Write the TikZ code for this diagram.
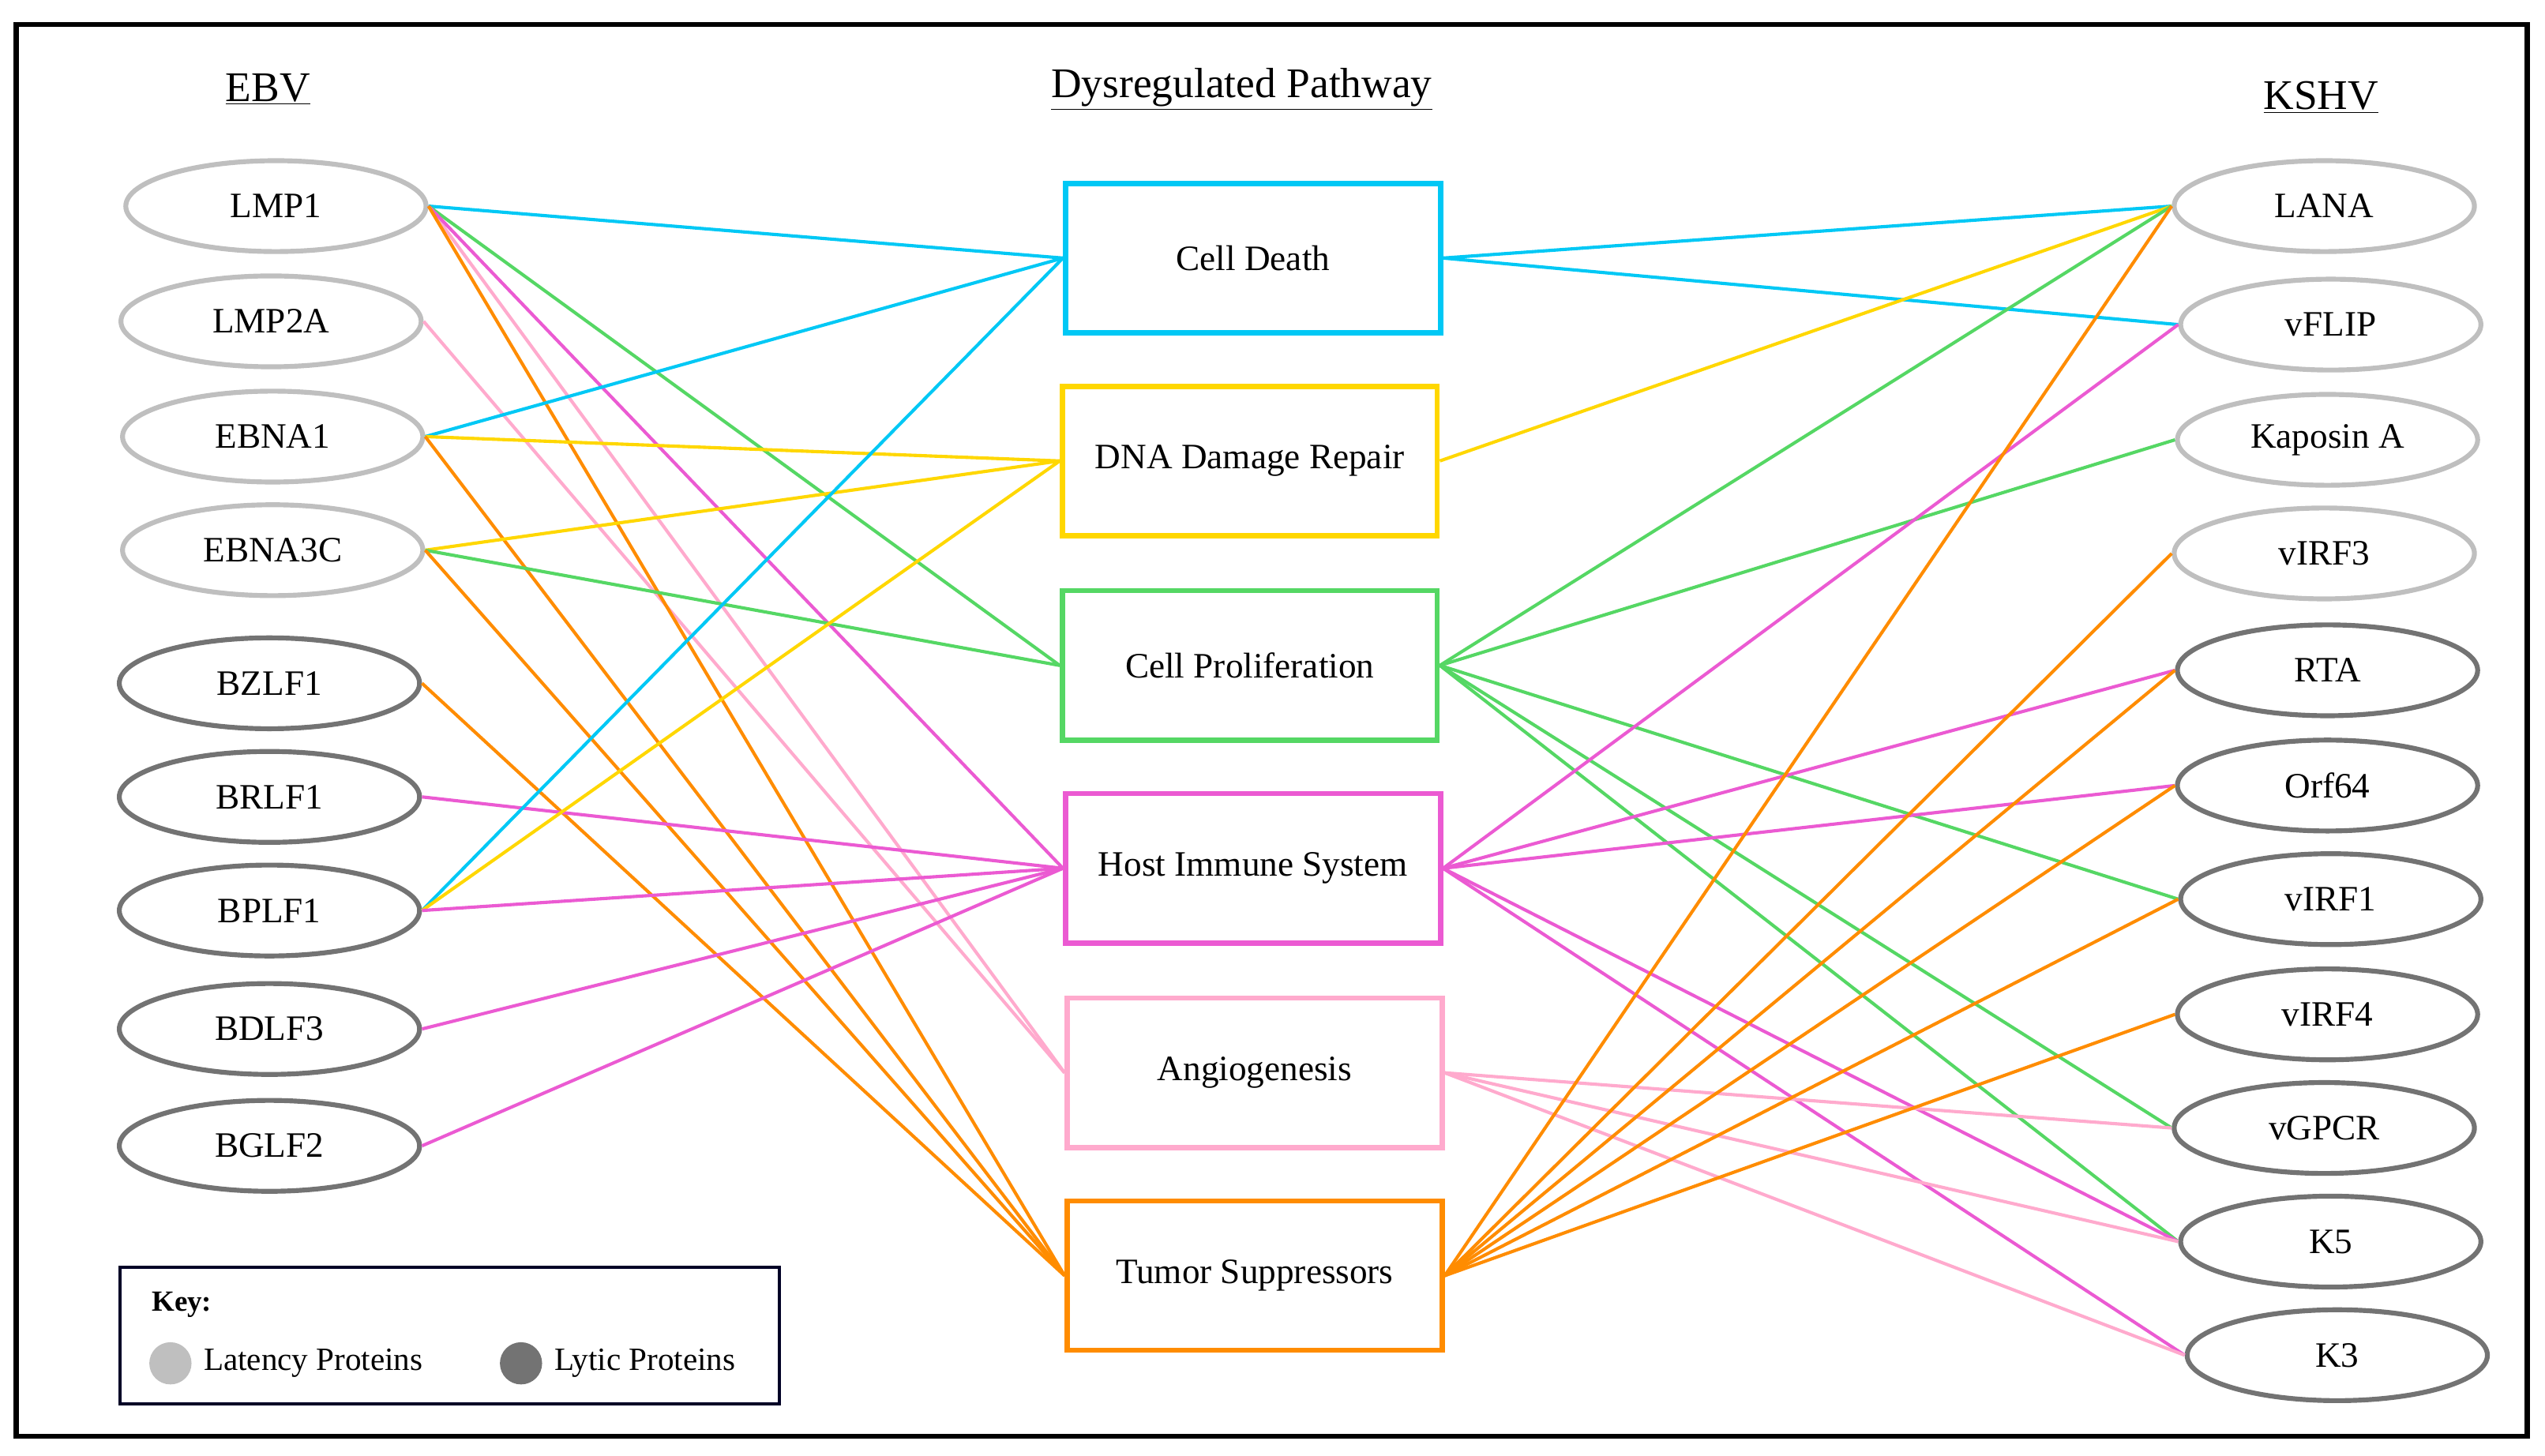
\documentclass[tikz,border=0pt]{standalone}
\usepackage{fontspec}
\setmainfont{Liberation Serif}
\usetikzlibrary{shapes.geometric}
\begin{document}
\begin{tikzpicture}[x=1pt,y=-1pt,
 lat/.style={ellipse,draw=black!25,line width=3pt,minimum width=185pt,minimum height=56pt,font=\fontsize{22}{24}\selectfont},
 lyt/.style={ellipse,draw=black!55,line width=3pt,minimum width=185pt,minimum height=56pt,font=\fontsize{22}{24}\selectfont},
 box/.style={draw=#1,line width=3.2pt,minimum width=231pt,minimum height=92pt,font=\fontsize{22}{24}\selectfont},
 ttl/.style={font=\fontsize{26}{28}\selectfont},
 e/.style={draw=#1,line width=2pt}]
\definecolor{cd}{RGB}{0,200,245}
\definecolor{dn}{RGB}{255,215,0}
\definecolor{cp}{RGB}{85,215,100}
\definecolor{hi}{RGB}{235,90,210}
\definecolor{an}{RGB}{255,170,205}
\definecolor{ts}{RGB}{255,140,0}
\useasboundingbox (0,0) rectangle (1568,897);
\draw[line width=3pt] (10,15) rectangle (1557,885);
\node[ttl] (tE) at (165,55) {\underline{EBV}};
\node[ttl] (tD) at (765,55) {\underline{Dysregulated Pathway}};
\node[ttl] (tK) at (1430,60) {\underline{KSHV}};
% left
\node[lat] (LMP1) at (170,127) {LMP1};
\node[lat] (LMP2A) at (167,198) {LMP2A};
\node[lat] (EBNA1) at (168,269) {EBNA1};
\node[lat] (EBNA3C) at (168,339) {EBNA3C};
\node[lyt] (BZLF1) at (166,421) {BZLF1};
\node[lyt] (BRLF1) at (166,491) {BRLF1};
\node[lyt] (BPLF1) at (166,561) {BPLF1};
\node[lyt] (BDLF3) at (166,634) {BDLF3};
\node[lyt] (BGLF2) at (166,706) {BGLF2};
% right
\node[lat] (LANA) at (1432,127) {LANA};
\node[lat] (vFLIP) at (1436,200) {vFLIP};
\node[lat] (KapA) at (1434,271) {Kaposin A};
\node[lat] (vIRF3) at (1432,341) {vIRF3};
\node[lyt] (RTA) at (1434,413) {RTA};
\node[lyt] (Orf64) at (1434,484) {Orf64};
\node[lyt] (vIRF1) at (1436,554) {vIRF1};
\node[lyt] (vIRF4) at (1434,625) {vIRF4};
\node[lyt] (vGPCR) at (1432,695) {vGPCR};
\node[lyt] (K5) at (1436,765) {K5};
\node[lyt] (K3) at (1440,835) {K3};
% boxes
\node[box=cd] (CD) at (772,159) {Cell Death};
\node[box=dn] (DN) at (770,284) {DNA Damage Repair};
\node[box=cp] (CP) at (770,410) {Cell Proliferation};
\node[box=hi] (HI) at (772,535) {Host Immune System};
\node[box=an] (AN) at (773,661) {Angiogenesis};
\node[box=ts] (TS) at (773,786) {Tumor Suppressors};
% left edges
\draw[e=an] (LMP1.east) -- (AN.west);
\draw[e=an] (LMP2A.east) -- (AN.west);
\draw[e=cd] (LMP1.east) -- (CD.west);
\draw[e=cp] (LMP1.east) -- (CP.west);
\draw[e=hi] (LMP1.east) -- (HI.west);
\draw[e=ts] (LMP1.east) -- (TS.west);
\draw[e=cd] (EBNA1.east) -- (CD.west);
\draw[e=dn] (EBNA1.east) -- (DN.west);
\draw[e=ts] (EBNA1.east) -- (TS.west);
\draw[e=dn] (EBNA3C.east) -- (DN.west);
\draw[e=cp] (EBNA3C.east) -- (CP.west);
\draw[e=ts] (EBNA3C.east) -- (TS.west);
\draw[e=ts] (BZLF1.east) -- (TS.west);
\draw[e=hi] (BRLF1.east) -- (HI.west);
\draw[e=cd] (BPLF1.east) -- (CD.west);
\draw[e=dn] (BPLF1.east) -- (DN.west);
\draw[e=hi] (BPLF1.east) -- (HI.west);
\draw[e=hi] (BDLF3.east) -- (HI.west);
\draw[e=hi] (BGLF2.east) -- (HI.west);
% right edges
\draw[e=cd] (CD.east) -- (LANA.west);
\draw[e=cd] (CD.east) -- (vFLIP.west);
\draw[e=dn] (DN.east) -- (LANA.west);
\draw[e=cp] (CP.east) -- (LANA.west);
\draw[e=cp] (CP.east) -- (KapA.west);
\draw[e=cp] (CP.east) -- (vIRF1.west);
\draw[e=cp] (CP.east) -- (vGPCR.west);
\draw[e=cp] (CP.east) -- (K5.west);
\draw[e=hi] (HI.east) -- (vFLIP.west);
\draw[e=hi] (HI.east) -- (RTA.west);
\draw[e=hi] (HI.east) -- (Orf64.west);
\draw[e=hi] (HI.east) -- (K5.west);
\draw[e=hi] (HI.east) -- (K3.west);
\draw[e=an] (AN.east) -- (vGPCR.west);
\draw[e=an] (AN.east) -- (K5.west);
\draw[e=an] (AN.east) -- (K3.west);
\draw[e=ts] (TS.east) -- (LANA.west);
\draw[e=ts] (TS.east) -- (vIRF3.west);
\draw[e=ts] (TS.east) -- (RTA.west);
\draw[e=ts] (TS.east) -- (Orf64.west);
\draw[e=ts] (TS.east) -- (vIRF1.west);
\draw[e=ts] (TS.east) -- (vIRF4.west);
% key
\draw[line width=2pt,draw=black!85!blue] (74,781) rectangle (480,865);
\node[font=\bfseries\fontsize{18}{20}\selectfont,anchor=west] (kk) at (90,804) {Key:};
\node[circle,fill=black!25,minimum size=26pt,inner sep=0] (c1) at (105,840) {};
\node[anchor=west,font=\fontsize{20}{22}\selectfont] (l1) at (122,840) {Latency Proteins};
\node[circle,fill=black!55,minimum size=26pt,inner sep=0] (c2) at (321,840) {};
\node[anchor=west,font=\fontsize{20}{22}\selectfont] (l2) at (338,840) {Lytic Proteins};
\end{tikzpicture}
\end{document}
